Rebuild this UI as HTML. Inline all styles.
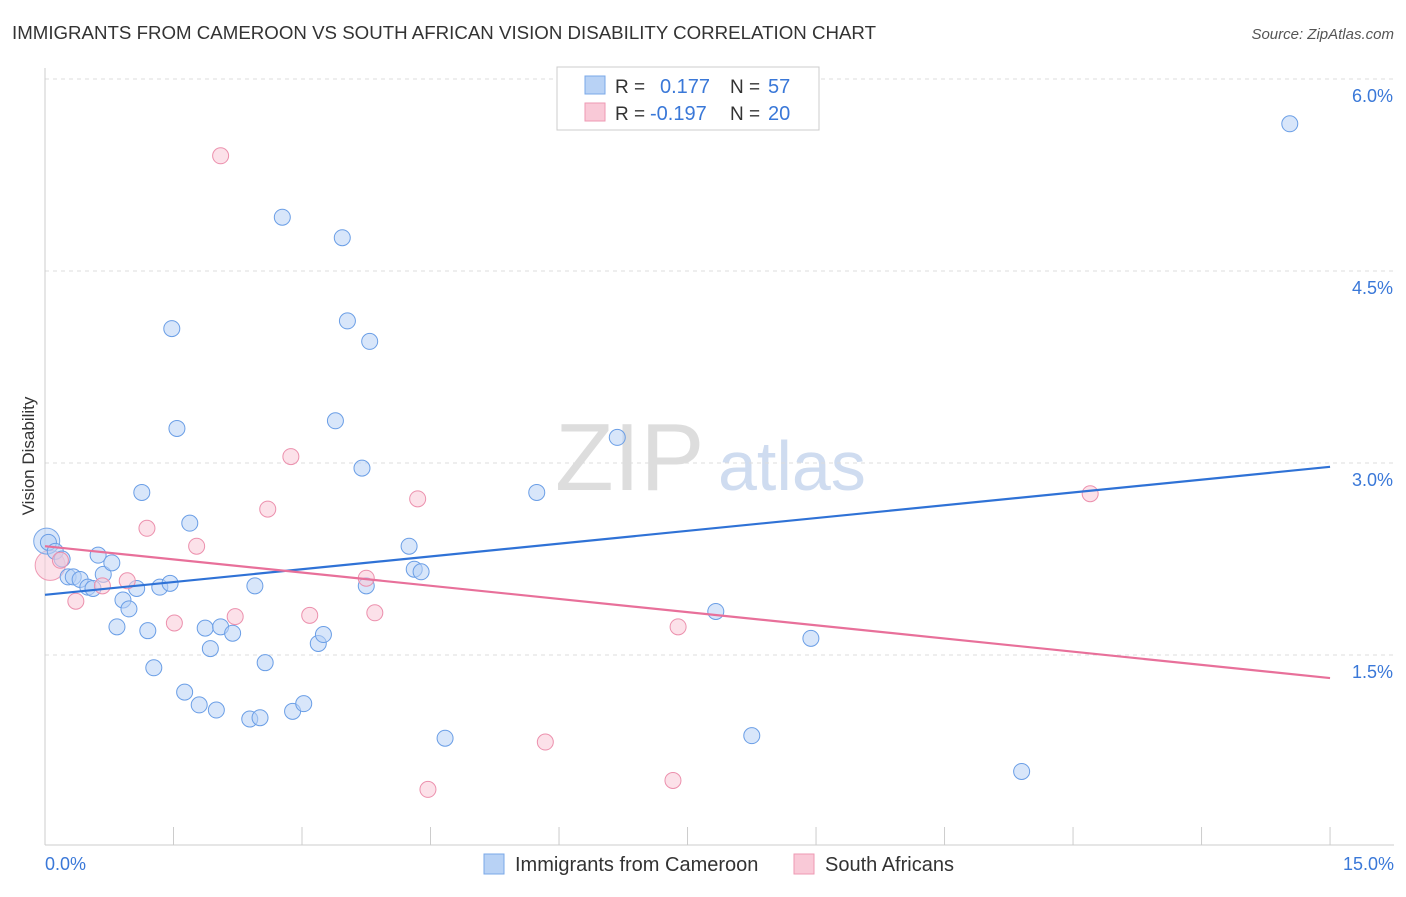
<!DOCTYPE html>
<html><head><meta charset="utf-8"><style>
body{margin:0;background:#fff;font-family:"Liberation Sans",sans-serif}
svg text{font-family:"Liberation Sans",sans-serif}
</style></head><body>
<svg id="chart" width="1406" height="892" xmlns="http://www.w3.org/2000/svg">
<text x="12" y="39" font-size="18" fill="#333" textLength="864" lengthAdjust="spacingAndGlyphs">IMMIGRANTS FROM CAMEROON VS SOUTH AFRICAN VISION DISABILITY CORRELATION CHART</text>
<text x="1394" y="39" font-size="15" fill="#555" text-anchor="end" font-style="italic">Source: ZipAtlas.com</text>
<text x="555" y="490" font-size="96" fill="#ddd" font-family="Liberation Serif,serif">ZIP</text>
<text x="718" y="490" font-size="70" fill="#cfdcf0">atlas</text>
<g id="grid"></g>
<g id="axes"></g>
<g id="marks"></g>
<g id="trend"></g>
<text transform="translate(34,456) rotate(-90)" font-size="17" fill="#333" text-anchor="middle">Vision Disability</text>
<g>
<rect x="557" y="67" width="262" height="63" fill="#fff" stroke="#ccc"/>
<rect x="585" y="76" width="20" height="18" fill="#b8d2f5" stroke="#7aa8e8"/>
<rect x="585" y="103" width="20" height="18" fill="#f9c9d7" stroke="#ee99b3"/>
<text x="615" y="93" font-size="19" fill="#333">R = </text><text x="660" y="93" font-size="20" fill="#3a78d8">0.177</text>
<text x="730" y="93" font-size="19" fill="#333">N = </text><text x="768" y="93" font-size="20" fill="#3a78d8">57</text>
<text x="615" y="120" font-size="19" fill="#333">R = </text><text x="650" y="120" font-size="20" fill="#3a78d8">-0.197</text>
<text x="730" y="120" font-size="19" fill="#333">N = </text><text x="768" y="120" font-size="20" fill="#3a78d8">20</text>
</g>
<g>
<rect x="484" y="854" width="20" height="20" fill="#b8d2f5" stroke="#7aa8e8"/>
<text x="515" y="871" font-size="20" fill="#333">Immigrants from Cameroon</text>
<rect x="794" y="854" width="20" height="20" fill="#f9c9d7" stroke="#ee99b3"/>
<text x="825" y="871" font-size="20" fill="#333">South Africans</text>
</g>
</svg>
<script>
const blueX=[0.04,0.12,0.20,0.27,0.33,0.41,0.50,0.56,0.62,0.68,0.78,0.84,0.91,0.98,1.07,1.13,1.20,1.27,1.34,1.46,1.48,1.54,1.63,1.69,1.80,1.87,1.93,2.00,2.05,2.19,2.39,2.45,2.51,2.57,2.77,2.89,3.02,3.19,3.25,3.39,3.47,3.53,3.70,3.75,3.79,4.25,4.31,4.39,4.67,5.74,6.68,7.83,8.25,8.94,11.40,14.53];
const blueY=[2.38,2.31,2.25,2.11,2.11,2.09,2.03,2.02,2.28,2.13,2.22,1.72,1.93,1.86,2.02,2.77,1.69,1.40,2.03,2.06,4.05,3.27,1.21,2.53,1.11,1.71,1.55,1.07,1.72,1.67,1.00,2.04,1.01,1.44,4.92,1.06,1.12,1.59,1.66,3.33,4.76,4.11,2.96,2.04,3.95,2.35,2.17,2.15,0.85,2.77,3.20,1.84,0.87,1.63,0.59,5.65];
const pinkX=[0.18,0.36,0.67,0.96,1.19,1.51,1.77,2.05,2.22,2.60,2.87,3.09,3.75,3.85,4.35,4.47,5.84,7.33,7.39,12.20];
const pinkY=[2.24,1.92,2.04,2.08,2.49,1.75,2.35,5.40,1.80,2.64,3.05,1.81,2.10,1.83,2.72,0.45,0.82,0.52,1.72,2.76];
const bigBlue=[0.02,2.39], bigPink=[0.06,2.20];
const blueTrend=[1.97,2.97], pinkTrend=[2.35,1.32];
const yTicks=[1.5,3.0,4.5,6.0];
const yTickLabels=["1.5%","3.0%","4.5%","6.0%"];
const NS="http://www.w3.org/2000/svg";
const X=v=>45+v*85.67, Y=v=>655-(v-1.5)*128;
function mk(p,t,a){const e=document.createElementNS(NS,t);for(const k in a)e.setAttribute(k,a[k]);document.getElementById(p).appendChild(e);return e;}
yTicks.forEach((t,i)=>{
 const l=mk('grid','line',{x1:45,x2:1394,y1:Y(t),y2:Y(t),stroke:'#ddd','stroke-dasharray':'4,4'});
 
 
 const tx=mk('grid','text',{x:1393,y:Y(t)+23,'font-size':18,fill:'#3a78d8','text-anchor':'end'});tx.textContent=yTickLabels[i];
 
 
});
const ax=mk('axes','line',{x1:45,x2:1394,y1:845,y2:845,stroke:'#ccc'});


const ay=mk('axes','line',{x1:45,x2:45,y1:68,y2:845,stroke:'#ccc'});


for(let i=1;i<=10;i++){const t=mk('axes','line',{x1:X(i*1.5),x2:X(i*1.5),y1:827,y2:845,stroke:'#ccc'});
 
 }
const x0=mk('axes','text',{x:45,y:870,'font-size':18,fill:'#3a78d8'});x0.textContent='0.0%';


const x1=mk('axes','text',{x:1394,y:870,'font-size':18,fill:'#3a78d8','text-anchor':'end'});x1.textContent='15.0%';


function dot(x,y,r,f,s,n){const c=mk('marks','circle',{cx:X(x),cy:Y(y),r:r,fill:f,'fill-opacity':0.55,stroke:s,'stroke-width':1});
 
 }
dot(bigPink[0],bigPink[1],15,'#f9c9d7','#ee99b3','point-south-african');
dot(bigBlue[0],bigBlue[1],13,'#b8d2f5','#7aa8e8','point-cameroon');
blueX.forEach((x,i)=>dot(x,blueY[i],8,'#b8d2f5','#6a9ee6','point-cameroon'));
pinkX.forEach((x,i)=>dot(x,pinkY[i],8,'#f9c9d7','#ec90ad','point-south-african'));
const bl=mk('trend','line',{x1:X(0),y1:Y(blueTrend[0]),x2:X(15),y2:Y(blueTrend[1]),stroke:'#2f72d6','stroke-width':2.2});


const pl=mk('trend','line',{x1:X(0),y1:Y(pinkTrend[0]),x2:X(15),y2:Y(pinkTrend[1]),stroke:'#e8709a','stroke-width':2.2});


</script>
</body></html>
